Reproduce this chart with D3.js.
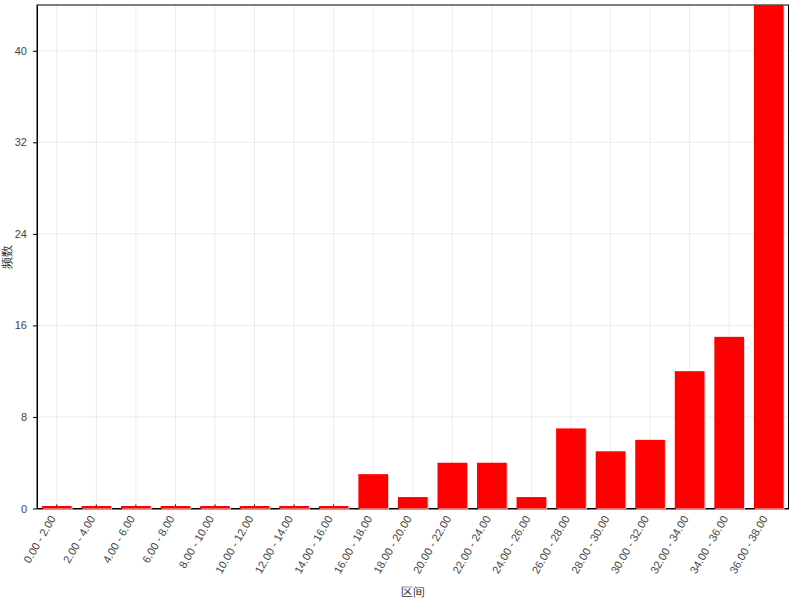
<!DOCTYPE html>
<html>
<head>
<meta charset="utf-8">
<script src="https://cdn.jsdelivr.net/npm/d3@7"></script>
<style>
  body { margin: 0; background: #fff; }
  text { font-family: "Liberation Sans", Arial, sans-serif; }
</style>
</head>
<body>
<div id="chart"></div>
<script>
const categories = [
    "0.00 - 2.00", "2.00 - 4.00", "4.00 - 6.00", "6.00 - 8.00", "8.00 - 10.00",
    "10.00 - 12.00", "12.00 - 14.00", "14.00 - 16.00", "16.00 - 18.00", "18.00 - 20.00",
    "20.00 - 22.00", "22.00 - 24.00", "24.00 - 26.00", "26.00 - 28.00", "28.00 - 30.00",
    "30.00 - 32.00", "32.00 - 34.00", "34.00 - 36.00", "36.00 - 38.00"
];
const counts = [0, 0, 0, 0, 0, 0, 0, 0, 3, 1, 4, 4, 1, 7, 5, 6, 12, 15, 44];
const yTicks = [0, 8, 16, 24, 32, 40];
const xTitle = "区间";
const yTitle = "频数";

const data = categories.map((c, i) => ({ label: c, value: counts[i] }));

const containerWidth = 800, containerHeight = 600;
const margin = { top: 5, right: 11.5, bottom: 91.5, left: 37 };
const width = containerWidth - margin.left - margin.right;
const height = containerHeight - margin.top - margin.bottom;

const svg = d3.select("#chart").append("svg")
    .attr("width", containerWidth)
    .attr("height", containerHeight);

const g = svg.append("g")
    .attr("transform", `translate(${margin.left}, ${margin.top})`);

const xScale = d3.scaleBand()
    .domain(categories)
    .range([0, width])
    .paddingInner(0.25)
    .paddingOuter(0.125);

const yScale = d3.scaleLinear()
    .domain([0, 44])
    .range([height, 0]);

// grid
g.append("g")
    .selectAll("line.hgrid")
    .data(yTicks)
    .join("line")
    .attr("x1", 0).attr("x2", width)
    .attr("y1", d => yScale(d)).attr("y2", d => yScale(d))
    .attr("stroke", "#ebebeb");

g.append("g")
    .selectAll("line.vgrid")
    .data(categories)
    .join("line")
    .attr("x1", d => xScale(d) + xScale.bandwidth() / 2)
    .attr("x2", d => xScale(d) + xScale.bandwidth() / 2)
    .attr("y1", 0).attr("y2", height)
    .attr("stroke", "#ebebeb");

// frame
g.append("rect")
    .attr("width", width).attr("height", height)
    .attr("fill", "none")
    .attr("stroke", "#000")
    .attr("stroke-width", 1);

// axes
const xAxis = d3.axisBottom(xScale).tickSizeInner(-4).tickSizeOuter(0).tickPadding(6);
const xAxisGroup = g.append("g")
    .attr("transform", `translate(0, ${height})`)
    .call(xAxis);
xAxisGroup.select(".domain").attr("stroke", "#000");
xAxisGroup.selectAll(".tick line").attr("stroke", "#000");
xAxisGroup.selectAll(".tick text")
    .attr("font-size", 11)
    .attr("fill", "#444")
    .attr("text-anchor", "end")
    .attr("transform", "translate(-4, 8) rotate(-60)")
    .attr("dy", "0.35em")
    .attr("y", 0)
    .attr("x", 0);

const yAxis = d3.axisLeft(yScale).tickValues(yTicks).tickSize(4).tickSizeOuter(0).tickPadding(6);
const yAxisGroup = g.append("g").call(yAxis);
yAxisGroup.select(".domain").attr("stroke", "#000");
yAxisGroup.selectAll(".tick line").attr("stroke", "#000");
yAxisGroup.selectAll(".tick text").attr("font-size", 11).attr("fill", "#444");

// bars (zero counts still get a thin sliver, like the original)
const minH = 2.5;
const bars = g.append("g").selectAll("g.bar")
    .data(data)
    .join("g");

bars.append("rect")
    .attr("x", d => xScale(d.label) + 1)
    .attr("y", d => Math.min(yScale(d.value), height - minH) + 1)
    .attr("width", xScale.bandwidth())
    .attr("height", d => Math.max(height - yScale(d.value), minH))
    .attr("fill", "#cfcfcf");

bars.append("rect")
    .attr("x", d => xScale(d.label))
    .attr("y", d => Math.min(yScale(d.value), height - minH))
    .attr("width", xScale.bandwidth())
    .attr("height", d => Math.max(height - yScale(d.value), minH))
    .attr("fill", "#ff0000");

// titles
svg.append("text")
    .attr("x", margin.left + width / 2)
    .attr("y", 596)
    .attr("text-anchor", "middle")
    .attr("font-size", 12)
    .attr("fill", "#333")
    .text(xTitle);

svg.append("text")
    .attr("transform", `translate(11, ${margin.top + height / 2}) rotate(-90)`)
    .attr("text-anchor", "middle")
    .attr("font-size", 12)
    .attr("fill", "#333")
    .text(yTitle);
</script>
</body>
</html>
